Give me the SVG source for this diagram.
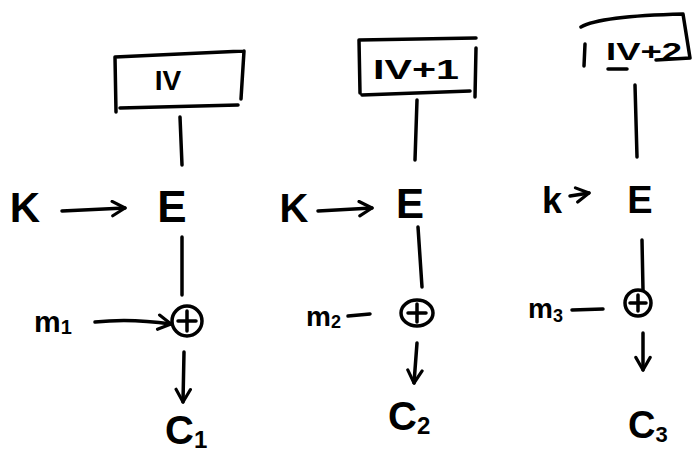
<svg xmlns="http://www.w3.org/2000/svg" width="692" height="453" viewBox="0 0 692 453">
<style>
.s{stroke:#000;stroke-width:3.5;fill:none;stroke-linecap:round;stroke-linejoin:round}
.t{font-family:"Liberation Sans",Arial,sans-serif;fill:#000;text-anchor:middle;font-weight:bold}
.st{font-family:"Liberation Sans",Arial,sans-serif;fill:#000;font-weight:bold}
</style>
<defs>
<marker id="ah" viewBox="0 0 20 20" refX="18" refY="10" markerWidth="18" markerHeight="18" markerUnits="userSpaceOnUse" orient="auto">
<path d="M4,2 L18,10 L4,18" fill="none" stroke="#000" stroke-width="3.5" stroke-linecap="round" stroke-linejoin="round"/>
</marker>
</defs>
<rect width="692" height="453" fill="#fff"/>

<g id="iv1">
<path class="s" d="M115,57 L244,51 M115,57 L116,112 M120,108 L238,105 M244,51 L241,99"/>
<text class="t" x="168" y="90" font-size="28">IV</text>
</g>
<g id="e1"><text class="t" x="172" y="222" font-size="44">E</text></g>
<g id="k1"><text class="t" x="25" y="222" font-size="42">K</text></g>
<g id="x1"><circle class="s" cx="187" cy="321" r="15"/><path class="s" d="M187,311 L187,331 M178,321 L196,321"/></g>
<g id="m1"><text class="st" x="34" y="332" font-size="30">m<tspan font-size="20" dy="2">1</tspan></text></g>
<g id="c1"><text class="st" x="165" y="444" font-size="40">C<tspan font-size="24" dy="4">1</tspan></text></g>

<g id="iv2">
<path class="s" d="M359,40 L476,38 M359,40 L360,93 M362,95 L470,91 M476,48 L475,97"/>
<text class="t" x="416" y="79" font-size="28" textLength="86" lengthAdjust="spacingAndGlyphs">IV+1</text>
</g>
<g id="e2"><text class="t" x="410" y="218" font-size="42">E</text></g>
<g id="k2"><text class="t" x="294" y="222" font-size="40">K</text></g>
<g id="x2"><ellipse class="s" cx="417" cy="313" rx="16" ry="13"/><path class="s" d="M417,304 L417,322 M408,313 L426,313"/></g>
<g id="m2"><text class="st" x="306" y="326" font-size="28">m<tspan font-size="18" dy="2">2</tspan></text></g>
<g id="c2"><text class="st" x="388" y="430" font-size="40">C<tspan font-size="24" dy="4">2</tspan></text></g>

<g id="iv3">
<path class="s" d="M581,27 Q600,16 683,14 L690,58 L656,60 M585,44 L584,66 M608,69 L627,69"/>
<text class="st" x="606" y="60" font-size="24" textLength="76" lengthAdjust="spacingAndGlyphs">IV+2</text>
</g>
<g id="e3"><text class="t" x="640" y="213" font-size="38">E</text></g>
<g id="k3"><text class="t" x="552" y="213" font-size="36">k</text></g>
<g id="x3"><circle class="s" cx="638" cy="303" r="13"/><path class="s" d="M638,295 L638,311 M630,303 L646,303"/></g>
<g id="m3"><text class="st" x="528" y="318" font-size="28">m<tspan font-size="18" dy="4">3</tspan></text></g>
<g id="c3"><text class="st" x="628" y="438" font-size="38">C<tspan font-size="22" dy="4">3</tspan></text></g>

<g id="connectors">
<path class="s" d="M180,117 L182,165"/>
<path class="s" d="M62,211 L125,208" marker-end="url(#ah)"/>
<path class="s" d="M182,237 L182,295"/>
<path class="s" d="M95,322 Q130,318 171,324" marker-end="url(#ah)" stroke-width="5"/>
<path class="s" d="M184,352 L183,402" marker-end="url(#ah)"/>

<path class="s" d="M417,100 L415,160"/>
<path class="s" d="M318,211 L372,208" marker-end="url(#ah)"/>
<path class="s" d="M418,227 L422,287"/>
<path class="s" d="M348,316 L370,314"/>
<path class="s" d="M417,343 L414,383" marker-end="url(#ah)"/>

<path class="s" d="M635,85 L637,157"/>
<path class="s" d="M570,196 L589,193" marker-end="url(#ah)"/>
<path class="s" d="M642,240 L643,290"/>
<path class="s" d="M572,310 L603,309"/>
<path class="s" d="M643,333 L643,370" marker-end="url(#ah)"/>
</g>
</svg>
